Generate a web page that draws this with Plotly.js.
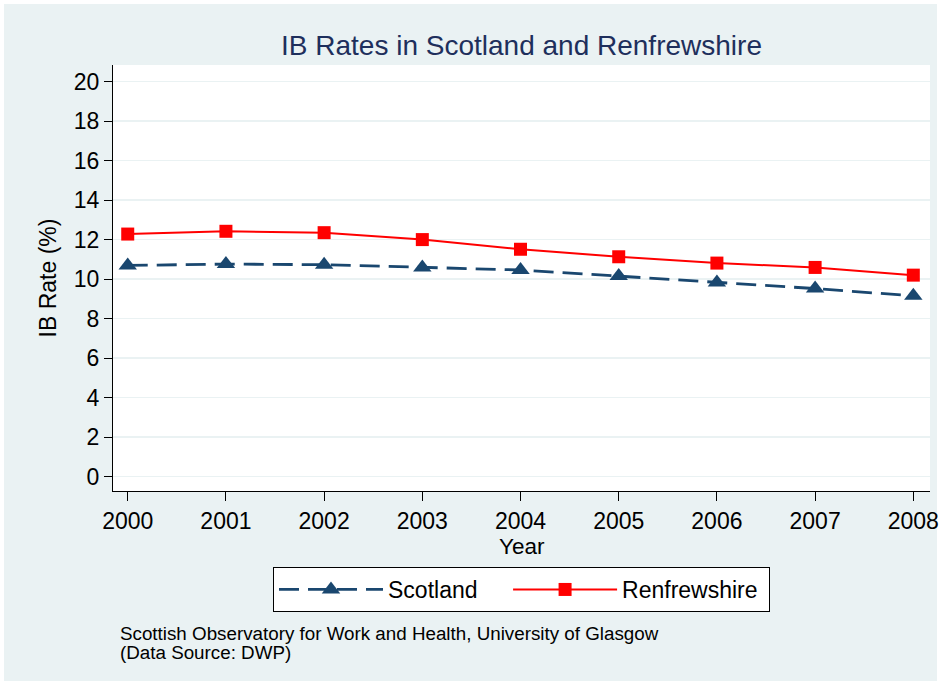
<!DOCTYPE html>
<html><head><meta charset="utf-8">
<script src="https://cdn.plot.ly/plotly-3.0.1.min.js"></script>
<style>
html,body{margin:0;padding:0;background:#ffffff;}
#chart{position:absolute;left:4px;top:4px;width:933px;height:677px;}
#chart svg.main-svg{overflow:visible;}
</style></head>
<body><div id="chart"></div>
<script>
const years = [2000, 2001, 2002, 2003, 2004, 2005, 2006, 2007, 2008];
const scotland = [10.69, 10.76, 10.73, 10.59, 10.46, 10.15, 9.83, 9.52, 9.15];
const renfrewshire = [12.28, 12.42, 12.35, 12.0, 11.51, 11.13, 10.81, 10.59, 10.2];
const yTicks = [0, 2, 4, 6, 8, 10, 12, 14, 16, 18, 20];
const seriesNames = ["Scotland", "Renfrewshire"];
const titleText = "IB Rates in Scotland and Renfrewshire";
const xTitle = "Year";
const yTitle = "IB Rate (%)";
const noteLines = ["Scottish Observatory for Work and Health, University of Glasgow", "(Data Source: DWP)"];

const FONT = "Liberation Sans, Arial, sans-serif";
const NB = "\u00a0";
const traces = [
  {x: years, y: scotland, name: seriesNames[0] + NB.repeat(4), mode: "lines+markers", type: "scatter",
   line: {color: "#1a476f", width: 2.8, dash: "20px,9px"},
   marker: {symbol: "triangle-up", size: 16, color: "#1a476f"}},
  {x: years, y: renfrewshire, name: seriesNames[1] + NB, mode: "lines+markers", type: "scatter",
   line: {color: "#ff0000", width: 2},
   marker: {symbol: "square", size: 13, color: "#ff0000"}}
];
const layout = {
  width: 933, height: 677,
  paper_bgcolor: "#eaf2f3", plot_bgcolor: "#ffffff",
  margin: {l: 109, r: 7, t: 61, b: 190},
  font: {family: FONT, color: "#000000", size: 23},
  title: {text: titleText, font: {family: FONT, size: 28, color: "#1e2f5c"},
          xref: "paper", x: 0.5, xanchor: "center", yref: "container", y: 1 - 41/677, yanchor: "middle"},
  xaxis: {range: [1999.85, 2008.17], tickvals: years, ticktext: years.map(String),
          showgrid: false, zeroline: false, showline: true, linecolor: "#000000", linewidth: 1,
          ticks: "outside", ticklen: 9, tickcolor: "#000000", tickfont: {size: 23},
          ticklabeloverflow: "allow", automargin: false},
  yaxis: {range: [-0.73, 20.84], tickvals: yTicks, ticktext: yTicks.map(String),
          showgrid: true, gridcolor: "#eaf2f3", gridwidth: 1.5, zeroline: false,
          showline: true, linecolor: "#000000", linewidth: 1,
          ticks: "outside", ticklen: 8, tickcolor: "#000000", tickfont: {size: 23},
          title: {text: yTitle, font: {size: 23}, standoff: 10}, automargin: false},
  showlegend: true,
  legend: {orientation: "h", x: 0.5, xanchor: "center", y: -76/426, yanchor: "top",
           bgcolor: "#ffffff", bordercolor: "#000000", borderwidth: 1,
           font: {size: 23}, itemwidth: 104},
  annotations: [
    {text: xTitle, xref: "paper", yref: "paper", x: 0.5, y: -55/426, xanchor: "center", yanchor: "middle",
     showarrow: false, font: {size: 22.5}},
    {text: noteLines[0], xref: "paper", yref: "paper", x: 5/817, y: -142/426, xanchor: "left", yanchor: "middle",
     showarrow: false, font: {size: 18.8}},
    {text: noteLines[1], xref: "paper", yref: "paper", x: 5/817, y: -161/426, xanchor: "left", yanchor: "middle",
     showarrow: false, font: {size: 18.8}}
  ]
};
Plotly.newPlot("chart", traces, layout, {displayModeBar: false, staticPlot: true});
</script></body></html>
